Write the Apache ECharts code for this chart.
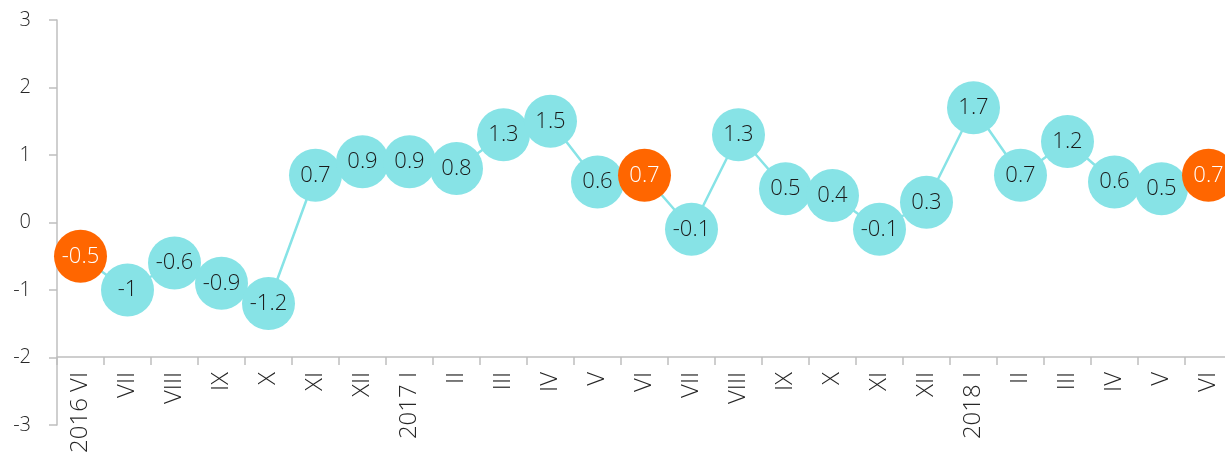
<!DOCTYPE html>
<html>
<head>
<meta charset="utf-8">
<script src="https://cdn.jsdelivr.net/npm/echarts@6/dist/echarts.min.js"></script>
<style>
  html, body { margin: 0; padding: 0; background: #fff; }
  #wrap { position: relative; width: 1225px; height: 452px; overflow: hidden; }
  #chart { position: absolute; left: 0; top: 0; width: 1232px; height: 452px; }
</style>
</head>
<body>
<div id="wrap"><div id="chart"></div></div>
<script>
// months, June 2016 to June 2018
var months = ['2016 VI', 'VII', 'VIII', 'IX', 'X', 'XI', 'XII', '2017 I', 'II', 'III', 'IV', 'V',
  'VI', 'VII', 'VIII', 'IX', 'X', 'XI', 'XII', '2018 I', 'II', 'III', 'IV', 'V', 'VI'];
var values = [-0.5, -1, -0.6, -0.9, -1.2, 0.7, 0.9, 0.9, 0.8, 1.3, 1.5, 0.6,
  0.7, -0.1, 1.3, 0.5, 0.4, -0.1, 0.3, 1.7, 0.7, 1.2, 0.6, 0.5, 0.7];
// points drawn in orange (same month each year)
var highlight = [0, 12, 24];

var font = '"Open Sans", "DejaVu Sans", sans-serif';
var cyan = '#87e3e6';
var orange = '#ff6600';

// chart is a bit wider than the window, the last circle gets cut off like in the original
var chart = echarts.init(document.getElementById('chart'));

var points = values.map(function (v, i) {
  var hot = highlight.indexOf(i) >= 0;
  return {
    value: v,
    itemStyle: { color: hot ? orange : cyan },
    label: { color: hot ? '#ffffff' : '#1a1a1a' }
  };
});

chart.setOption({
  animation: false,
  // labels run off the bottom edge on purpose, so don't let the grid shrink
  grid: { left: 57, right: 0, top: 20, bottom: 27, outerBoundsMode: 'none' },
  xAxis: {
    type: 'category',
    data: months,
    boundaryGap: true,
    offset: -68,
    axisLine: { onZero: false, lineStyle: { color: '#bfbfbf', width: 1.5 } },
    axisTick: { show: true, length: 8, alignWithLabel: false, lineStyle: { color: '#bfbfbf', width: 1.5 } },
    axisLabel: { rotate: 90, margin: 15, interval: 0, fontFamily: font, fontWeight: 300, fontSize: 24, color: '#262626' },
    splitLine: { show: false }
  },
  yAxis: {
    type: 'value',
    min: -3,
    max: 3,
    interval: 1,
    axisLine: { show: true, lineStyle: { color: '#bfbfbf', width: 1.5 } },
    axisTick: { show: true, length: 8, lineStyle: { color: '#bfbfbf', width: 1.5 } },
    axisLabel: { margin: 26, fontFamily: font, fontWeight: 300, fontSize: 20, color: '#262626' },
    splitLine: { show: false }
  },
  series: [{
    type: 'line',
    data: points,
    symbol: 'circle',
    symbolSize: 53,
    lineStyle: { color: cyan, width: 2.5 },
    itemStyle: { color: cyan },
    label: {
      show: true,
      position: 'inside',
      fontFamily: font,
      fontWeight: 300,
      fontSize: 22
    },
    z: 3
  }]
});
</script>
</body>
</html>
